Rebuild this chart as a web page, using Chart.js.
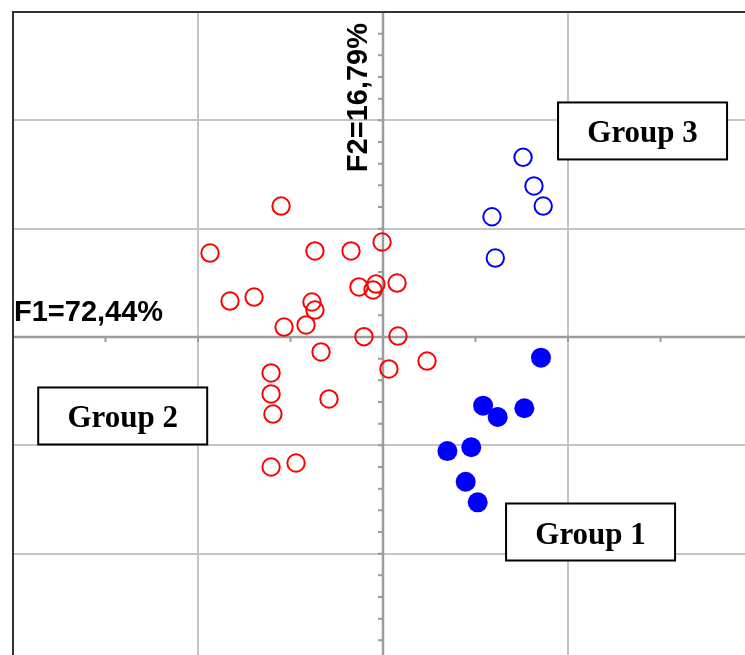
<!DOCTYPE html>
<html>
<head>
<meta charset="utf-8">
<title>PCA – F1 × F2</title>
<script src="https://cdn.jsdelivr.net/npm/chart.js@4.4.1/dist/chart.umd.min.js"></script>
<style>
  html, body { margin: 0; padding: 0; background: #ffffff; overflow: hidden; }
  #wrap { width: 770px; height: 680px; }
</style>
</head>
<body>
<div id="wrap"><canvas id="pca" width="770" height="680"></canvas></div>
<script>
// Factor scores of the samples on the first two principal axes
const group1X = [0.854, 0.541, 0.620, 0.764, 0.348, 0.477, 0.447, 0.512];
const group1Y = [-0.191, -0.634, -0.738, -0.658, -1.053, -1.018, -1.336, -1.526];

const group2X = [-0.551, -0.935, -0.368, -0.173, -0.005, -0.827, -0.697, -0.384, -0.368,
                 -0.535, -0.416, -0.130, -0.054, -0.038, 0.076, -0.103, 0.081, -0.335,
                 0.238, 0.032, -0.605, -0.605, -0.595, -0.292, -0.605, -0.470];
const group2Y = [1.209, 0.775, 0.794, 0.794, 0.877, 0.332, 0.369, 0.323, 0.249,
                 0.092, 0.111, 0.462, 0.434, 0.489, 0.498, 0.003, 0.009, -0.138,
                 -0.222, -0.295, -0.332, -0.526, -0.711, -0.572, -1.200, -1.163];

const group3X = [0.757, 0.816, 0.866, 0.589, 0.607];
const group3Y = [1.659, 1.394, 1.209, 1.110, 0.729];

const groupNames = ['Group 1', 'Group 2', 'Group 3'];
const axisLabelF1 = 'F1=72,44%';
const axisLabelF2 = 'F2=16,79%';

// Axis extents (factor units)
const xRange = [-2, 2];
const yRange = [-3, 3];

function toPoints(xs, ys) {
  return xs.map((v, i) => ({ x: v, y: ys[i] }));
}

// Where each group caption box sits, in factor units
const captionAnchors = [
  { name: groupNames[0], x: 1.122, y: -1.80 },
  { name: groupNames[1], x: -1.407, y: -0.729 },
  { name: groupNames[2], x: 1.403, y: 1.902 }
];

const pcaDecor = {
  id: 'pcaDecor',
  beforeDatasetsDraw(chart) {
    const { ctx, chartArea: a, scales: { x, y } } = chart;
    const x0 = x.getPixelForValue(0);
    const y0 = y.getPixelForValue(0);
    ctx.save();

    // axes through the origin
    ctx.strokeStyle = '#9c9c9c';
    ctx.lineWidth = 2.5;
    ctx.beginPath();
    ctx.moveTo(a.left, y0); ctx.lineTo(a.right, y0);
    ctx.moveTo(x0, a.top); ctx.lineTo(x0, a.bottom);
    ctx.stroke();

    // minor tick marks
    ctx.lineWidth = 2;
    ctx.beginPath();
    for (let v = y.min; v <= y.max + 1e-9; v += 0.2) {
      const py = y.getPixelForValue(v);
      ctx.moveTo(x0 - 5, py); ctx.lineTo(x0, py);
    }
    for (let v = x.min; v <= x.max + 1e-9; v += 0.5) {
      const px = x.getPixelForValue(v);
      ctx.moveTo(px, y0); ctx.lineTo(px, y0 + 5);
    }
    ctx.stroke();

    // frame on the top and left
    ctx.strokeStyle = '#333333';
    ctx.lineWidth = 2;
    ctx.beginPath();
    ctx.moveTo(a.left, a.bottom); ctx.lineTo(a.left, a.top); ctx.lineTo(a.right, a.top);
    ctx.stroke();

    // inertia labels of the two axes
    ctx.fillStyle = '#000000';
    ctx.font = 'bold 29px "Liberation Sans", Arial, sans-serif';
    ctx.textBaseline = 'alphabetic';
    ctx.textAlign = 'left';
    ctx.fillText(axisLabelF1, a.left + 1, y0 - 16);

    ctx.translate(x0 - 16, a.top + 11);
    ctx.rotate(-Math.PI / 2);
    ctx.textAlign = 'right';
    ctx.fillText(axisLabelF2, 0, 0);
    ctx.restore();
  },
  afterDatasetsDraw(chart) {
    const { ctx, scales: { x, y } } = chart;
    const w = 169, h = 57;
    ctx.save();
    ctx.font = 'bold 31px "Liberation Serif", "Times New Roman", serif';
    ctx.textAlign = 'center';
    ctx.textBaseline = 'alphabetic';
    captionAnchors.forEach(c => {
      const cx = x.getPixelForValue(c.x);
      const cy = y.getPixelForValue(c.y);
      ctx.fillStyle = '#ffffff';
      ctx.fillRect(cx - w / 2, cy - h / 2, w, h);
      ctx.strokeStyle = '#000000';
      ctx.lineWidth = 2;
      ctx.strokeRect(cx - w / 2, cy - h / 2, w, h);
      ctx.fillStyle = '#000000';
      ctx.fillText(c.name, cx, cy + 11.5);
    });
    ctx.restore();
  }
};

new Chart(document.getElementById('pca'), {
  type: 'scatter',
  data: {
    datasets: [
      {
        label: groupNames[0],
        data: toPoints(group1X, group1Y),
        pointStyle: 'circle',
        pointRadius: 10,
        pointBorderWidth: 0,
        backgroundColor: '#0000ff',
        borderColor: '#0000ff'
      },
      {
        label: groupNames[2],
        data: toPoints(group3X, group3Y),
        pointStyle: 'circle',
        pointRadius: 8.7,
        pointBorderWidth: 2,
        backgroundColor: 'rgba(255,255,255,0)',
        borderColor: '#0000ff'
      },
      {
        label: groupNames[1],
        data: toPoints(group2X, group2Y),
        pointStyle: 'circle',
        pointRadius: 8.7,
        pointBorderWidth: 2,
        backgroundColor: 'rgba(255,255,255,0)',
        borderColor: '#ff0000'
      }
    ]
  },
  options: {
    responsive: false,
    animation: false,
    events: [],
    layout: { autoPadding: false, padding: { left: 13, top: 12, right: 17, bottom: 18 } },
    plugins: { legend: { display: false }, tooltip: { enabled: false } },
    scales: {
      x: {
        type: 'linear',
        min: xRange[0], max: xRange[1],
        ticks: { display: false, stepSize: 1 },
        grid: { color: '#c4c4c4', lineWidth: 2, drawTicks: false },
        border: { display: false }
      },
      y: {
        type: 'linear',
        min: yRange[0], max: yRange[1],
        ticks: { display: false, stepSize: 1 },
        grid: { color: '#c4c4c4', lineWidth: 2, drawTicks: false },
        border: { display: false }
      }
    }
  },
  plugins: [pcaDecor]
});
</script>
</body>
</html>
